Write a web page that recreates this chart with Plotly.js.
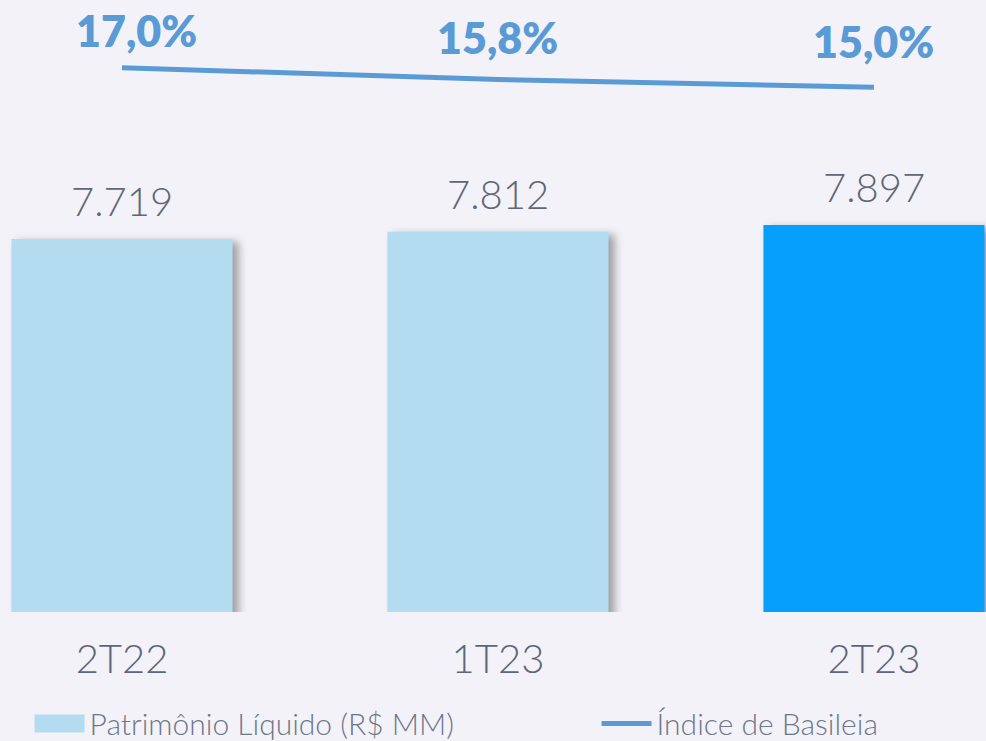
<!DOCTYPE html>
<html>
<head>
<meta charset="utf-8">
<script src="https://cdn.plot.ly/plotly-3.0.1.min.js"></script>
<style>
html,body{margin:0;padding:0;background:#f3f2f8;}
#chart{width:986px;height:741px;}
</style>
</head>
<body>
<div id="chart"></div>
<script>
const categories = ["2T22", "1T23", "2T23"];
const patrimonio = [7719, 7812, 7897];
const patrimonioLabels = ["7.719", "7.812", "7.897"];
const basileia = [17.0, 15.8, 15.0];
const basileiaLabels = ["17,0%", "15,8%", "15,0%"];
const barColors = ["#b4dcf0", "#b4dcf0", "#069ffb"];

const xs = categories.map((c, i) => i);
const FONT = "Lato, 'Open Sans', sans-serif";
const GREY = "#5f6677";
const LEGEND_GREY = "#6d778b";
const pctShiftY = [10, 14, 18];
const pctShiftX = [14, 0, 0];

const traces = [
  {
    type: "bar",
    name: "Patrimônio Líquido (R$ MM)",
    x: xs,
    y: patrimonio,
    width: 0.588,
    marker: {color: barColors},
    showlegend: true,
    legend: "legend",
    hoverinfo: "skip"
  },
  {
    type: "scatter",
    mode: "lines",
    name: "Índice de Basileia",
    x: xs,
    y: basileia,
    yaxis: "y2",
    line: {color: "#5b9bd5", width: 5},
    showlegend: true,
    legend: "legend2",
    hoverinfo: "skip"
  }
];

const annotations = [];
xs.forEach((x, i) => {
  annotations.push({
    x: x, y: patrimonio[i], xref: "x", yref: "y",
    text: patrimonioLabels[i], showarrow: false,
    yanchor: "bottom", yshift: 12,
    font: {family: FONT, size: 40, color: GREY, weight: 300}
  });
  annotations.push({
    x: x, y: basileia[i], xref: "x", yref: "y2",
    text: basileiaLabels[i], showarrow: false,
    yanchor: "bottom", yshift: pctShiftY[i], xshift: pctShiftX[i],
    font: {family: FONT, size: 43, color: "#5b9bd5", weight: 800}
  });
});

const legendFont = {family: FONT, size: 30, color: LEGEND_GREY, weight: 300};

const layout = {
  width: 986,
  height: 741,
  margin: {l: 0, r: 0, t: 0, b: 129, autoexpand: false},
  paper_bgcolor: "#f3f2f8",
  plot_bgcolor: "#f3f2f8",
  font: {family: FONT, color: GREY},
  xaxis: {
    range: [-0.3245, 2.298],
    tickvals: xs,
    ticktext: categories,
    showgrid: false, zeroline: false, showline: false,
    ticks: "",
    ticklabelstandoff: 20,
    automargin: false,
    tickfont: {family: FONT, size: 40, color: GREY, weight: 300}
  },
  yaxis: {
    range: [3000, 10744],
    visible: false, showgrid: false, zeroline: false
  },
  yaxis2: {
    range: [-38.54, 23.91],
    overlaying: "y",
    visible: false, showgrid: false, zeroline: false
  },
  showlegend: true,
  legend: {
    orientation: "h",
    x: 0.03, xanchor: "left",
    y: -0.182, yanchor: "middle",
    itemwidth: 50,
    font: legendFont,
    bgcolor: "rgba(0,0,0,0)"
  },
  legend2: {
    orientation: "h",
    x: 0.605, xanchor: "left",
    y: -0.182, yanchor: "middle",
    itemwidth: 50,
    font: legendFont,
    bgcolor: "rgba(0,0,0,0)"
  },
  annotations: annotations
};

Plotly.newPlot("chart", traces, layout, {displayModeBar: false, staticPlot: true}).then(function (gd) {
  gd.querySelectorAll(".barlayer .point path").forEach(function (p) {
    p.style.filter = "drop-shadow(6px 3px 4px rgba(0,0,0,0.35))";
  });
  gd.querySelectorAll(".legendpoints path").forEach(function (p) {
    if ((p.getAttribute("d") || "").indexOf("V") >= 0) {
      p.setAttribute("d", "M25,9H-25V-9H25Z");
    }
  });
});
</script>
</body>
</html>
